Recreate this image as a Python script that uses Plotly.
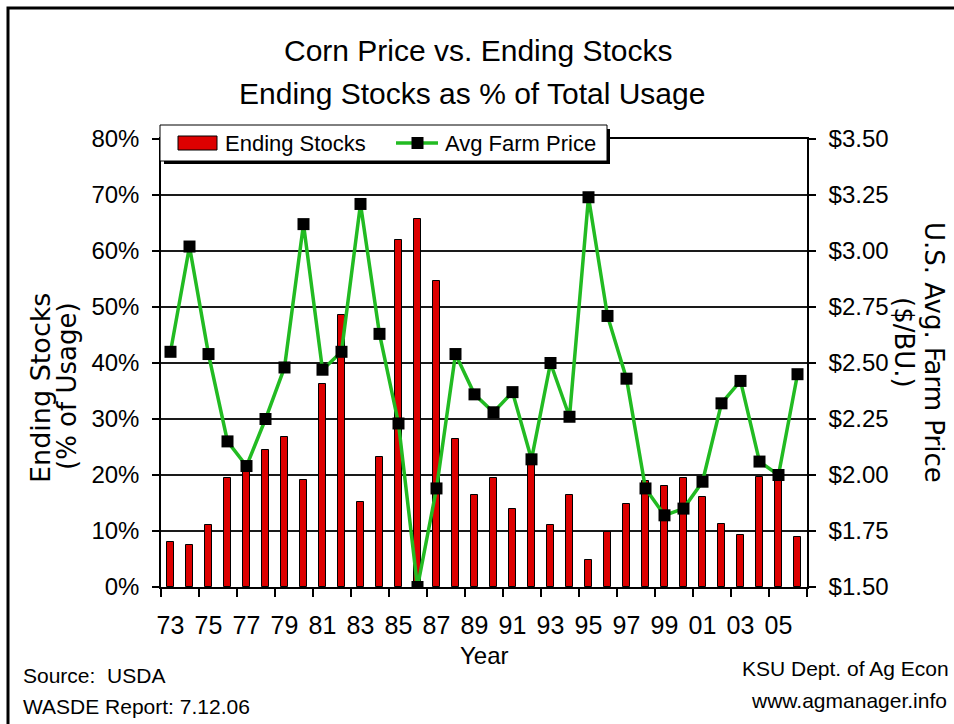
import plotly.graph_objects as go

# ---------------- data ----------------
years = list(range(1973, 2007))
tick_years = [1973, 1975, 1977, 1979, 1981, 1983, 1985, 1987, 1989,
              1991, 1993, 1995, 1997, 1999, 2001, 2003, 2005]
tick_labels = ["73", "75", "77", "79", "81", "83", "85", "87", "89",
               "91", "93", "95", "97", "99", "01", "03", "05"]

ending_stocks_pct = [8.0, 7.5, 11.0, 19.5, 21.0, 24.4, 26.7, 19.1, 36.3, 48.6,
                     15.1, 23.2, 62.0, 65.8, 54.7, 26.4, 16.5, 19.5, 13.9, 22.0,
                     11.0, 16.5, 4.9, 9.8, 14.8, 19.0, 18.0, 19.5, 16.0, 11.3,
                     9.3, 19.7, 19.8, 8.9]

avg_farm_price = [2.55, 3.02, 2.54, 2.15, 2.04, 2.25, 2.48, 3.12, 2.47, 2.55,
                  3.21, 2.63, 2.23, 1.50, 1.94, 2.54, 2.36, 2.28, 2.37, 2.07,
                  2.50, 2.26, 3.24, 2.71, 2.43, 1.94, 1.82, 1.85, 1.97, 2.32,
                  2.42, 2.06, 2.00, 2.45]

pct_ticks = [0, 10, 20, 30, 40, 50, 60, 70, 80]
pct_labels = ["0%", "10%", "20%", "30%", "40%", "50%", "60%", "70%", "80%"]
price_ticks = [1.50, 1.75, 2.00, 2.25, 2.50, 2.75, 3.00, 3.25, 3.50]
price_labels = ["$1.50", "$1.75", "$2.00", "$2.25", "$2.50",
                "$2.75", "$3.00", "$3.25", "$3.50"]

# ---------------- layout geometry (pixels) ----------------
W, H = 954, 724
L, R, T, B = 161, 147, 139, 137
PW, PH = W - L - R, H - T - B


def px(x):
    return (x - L) / PW


def py(y):
    return (H - B - y) / PH


FONT = "Liberation Sans, Arial, sans-serif"
WFONT = "DejaVu Sans, Verdana, sans-serif"

fig = go.Figure()

fig.add_trace(go.Bar(
    x=years, y=ending_stocks_pct, name="Ending Stocks",
    width=0.4,
    marker=dict(color="#DD0000", line=dict(color="black", width=1)),
    yaxis="y", showlegend=False,
))

fig.add_trace(go.Scatter(
    x=years, y=avg_farm_price, name="Avg Farm Price",
    mode="lines+markers",
    line=dict(color="#22BB22", width=3.5),
    marker=dict(symbol="square", size=12, color="black"),
    yaxis="y2", showlegend=False,
))

minor_vals = [years[0] - 0.5] + [y + 1.5 for y in years[::2]]

shapes = []
# outer frame
shapes.append(dict(type="rect", xref="paper", yref="paper",
                   x0=px(8), x1=px(962), y0=py(8), y1=py(745),
                   line=dict(color="black", width=3), layer="above"))
# legend shadow + box
shapes.append(dict(type="rect", xref="paper", yref="paper",
                   x0=px(164), x1=px(610), y0=py(129), y1=py(164),
                   fillcolor="black", line=dict(width=0), layer="above"))
shapes.append(dict(type="rect", xref="paper", yref="paper",
                   x0=px(160), x1=px(607), y0=py(125), y1=py(161),
                   fillcolor="white", line=dict(color="black", width=1), layer="above"))
# legend symbols
shapes.append(dict(type="rect", xref="paper", yref="paper",
                   x0=px(178), x1=px(217), y0=py(136), y1=py(150),
                   fillcolor="#DD0000", line=dict(color="black", width=1), layer="above"))
shapes.append(dict(type="line", xref="paper", yref="paper",
                   x0=px(396), x1=px(438), y0=py(143), y1=py(143),
                   line=dict(color="#22BB22", width=3.5), layer="above"))
shapes.append(dict(type="rect", xref="paper", yref="paper",
                   x0=px(411.5), x1=px(423.5), y0=py(137), y1=py(149),
                   fillcolor="black", line=dict(width=0), layer="above"))

annotations = []


def note(text, x, y, size, xanchor="center", font=FONT, angle=0):
    annotations.append(dict(text=text, xref="paper", yref="paper",
                            x=px(x), y=py(y), xanchor=xanchor, yanchor="middle",
                            showarrow=False, textangle=angle,
                            font=dict(family=font, size=size, color="black")))


note("Corn Price vs. Ending Stocks", 478, 50, 30)
note("Ending Stocks as % of Total Usage", 472, 93, 30)
note("Ending Stocks", 223, 143, 22, "left")
note("Avg Farm Price", 443, 143, 22, "left")
note("Year", 484, 655, 24)
note("Source:  USDA", 21, 675, 21, "left")
note("WASDE Report: 7.12.06", 21, 706, 21, "left")
note("KSU Dept. of Ag Econ", 951, 668, 21, "right")
note("www.agmanager.info", 949, 700, 21, "right")
note("Ending Stocks", 40, 388, 27, font=WFONT, angle=-90)
note("(% of Usage)", 67, 386, 26, font=WFONT, angle=-90)
note("U.S. Avg. Farm Price", 934, 352, 26, font=WFONT, angle=90)
note("($/BU.)", 904, 342, 26, font=WFONT, angle=90)

fig.update_layout(
    width=W, height=H,
    margin=dict(l=L, r=R, t=T, b=B, pad=0),
    paper_bgcolor="white", plot_bgcolor="white",
    bargap=0,
    showlegend=False,
    xaxis=dict(
        range=[years[0] - 0.5, years[-1] + 0.5],
        tickmode="array", tickvals=tick_years, ticktext=tick_labels,
        ticks="", ticklabelstandoff=15,
        tickfont=dict(family=FONT, size=25, color="black"),
        showgrid=False, zeroline=False,
        showline=True, linecolor="black", linewidth=1.5, mirror=True,
        minor=dict(tickmode="array", tickvals=minor_vals, ticks="outside",
                   ticklen=8, tickwidth=1.5, tickcolor="black", showgrid=False),
    ),
    yaxis=dict(
        range=[0, 80], tickmode="array", tickvals=pct_ticks, ticktext=pct_labels,
        ticks="outside", ticklen=7, tickwidth=1.5, tickcolor="black",
        ticklabelstandoff=8,
        tickfont=dict(family=FONT, size=24, color="black"),
        showgrid=True, gridcolor="#1a1a1a", gridwidth=1.8,
        zeroline=False, showline=True, linecolor="black", linewidth=1.5,
    ),
    yaxis2=dict(
        range=[1.5, 3.5], overlaying="y", side="right",
        tickmode="array", tickvals=price_ticks, ticktext=price_labels,
        ticks="outside", ticklen=7, tickwidth=1.5, tickcolor="black",
        ticklabelstandoff=8,
        tickfont=dict(family=FONT, size=24, color="black"),
        showgrid=False, zeroline=False,
        showline=True, linecolor="black", linewidth=1.5,
    ),
    shapes=shapes,
    annotations=annotations,
)

fig.write_html(
    "out.html",
    config={"displayModeBar": False},
    post_script="document.body.style.margin='0';document.body.style.overflow='hidden';",
)
